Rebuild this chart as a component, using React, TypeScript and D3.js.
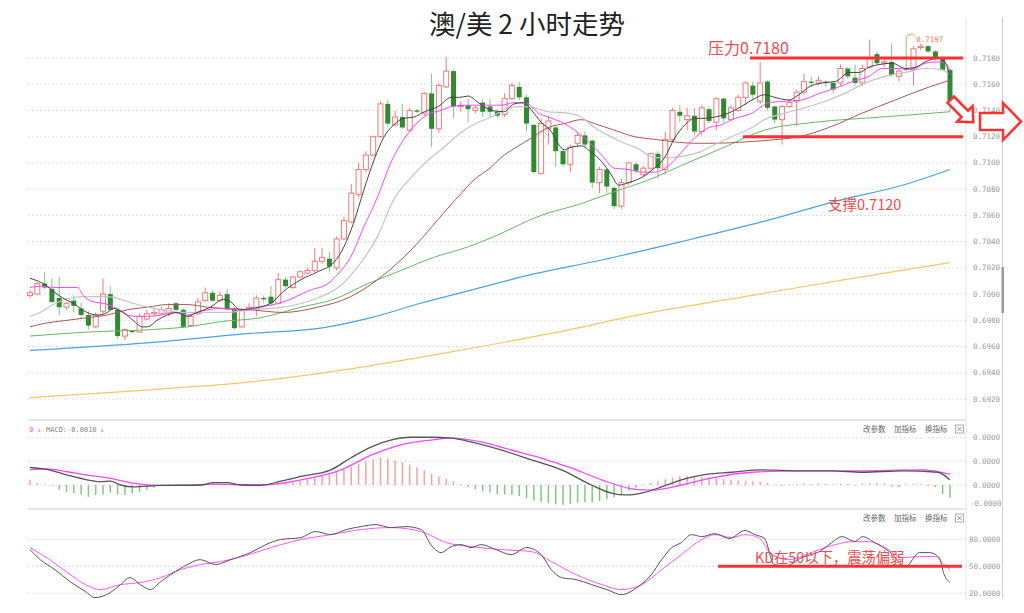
import React from "react";
import * as d3 from "d3";

// ---------- candles (AUD/USD, 2h) ----------
const opens = [0.6999,0.7000,0.7008,0.7004,0.6997,0.6990,0.6995,0.6989,0.6984,0.6975,
0.6987,0.7000,0.6988,0.6968,0.6972,0.6971,0.6981,0.6985,0.6985,0.6985,
0.6993,0.6988,0.6976,0.6985,0.6995,0.7001,0.6995,0.7000,0.6989,0.6975,
0.6988,0.6988,0.6997,0.6998,0.6993,0.7011,0.7005,0.7013,0.7016,0.7018,
0.7025,0.7027,0.7020,0.7042,0.7055,0.7076,0.7095,0.7106,0.7120,0.7145,
0.7129,0.7135,0.7125,0.7140,0.7138,0.7153,0.7126,0.7158,0.7170,0.7143,
0.7144,0.7140,0.7146,0.7143,0.7139,0.7137,0.7149,0.7158,0.7150,0.7129,
0.7092,0.7126,0.7127,0.7109,0.7099,0.7115,0.7121,0.7117,0.7085,0.7095,
0.7081,0.7067,0.7085,0.7099,0.7091,0.7096,0.7107,0.7095,0.7118,0.7139,
0.7133,0.7136,0.7124,0.7141,0.7131,0.7149,0.7133,0.7140,0.7150,0.7159,
0.7147,0.7162,0.7143,0.7133,0.7143,0.7147,0.7154,0.7162,0.7161,0.7162,
0.7161,0.7161,0.7172,0.7165,0.7161,0.7173,0.7183,0.7176,0.7177,0.7166,
0.7172,0.7172,0.7188,0.7189,0.7185,0.7180,0.7171];
const highs = [0.7003,0.7009,0.7017,0.7012,0.7013,0.6994,0.6999,0.6993,0.6987,0.6986,
0.7012,0.7006,0.6989,0.6974,0.6973,0.6985,0.6988,0.6989,0.6990,0.6993,
0.6994,0.6989,0.6984,0.6997,0.7005,0.7003,0.7002,0.7004,0.6990,0.6989,
0.6993,0.6999,0.6999,0.7006,0.7016,0.7013,0.7014,0.7018,0.7020,0.7035,
0.7035,0.7032,0.7044,0.7059,0.7084,0.7100,0.7109,0.7121,0.7147,0.7148,
0.7140,0.7145,0.7142,0.7141,0.7154,0.7168,0.7161,0.7181,0.7171,0.7147,
0.7149,0.7144,0.7149,0.7149,0.7141,0.7153,0.7161,0.7162,0.7152,0.7130,
0.7134,0.7136,0.7129,0.7110,0.7114,0.7123,0.7124,0.7118,0.7097,0.7096,
0.7082,0.7088,0.7101,0.7101,0.7098,0.7108,0.7109,0.7124,0.7142,0.7144,
0.7142,0.7142,0.7144,0.7143,0.7150,0.7150,0.7144,0.7152,0.7162,0.7162,
0.7177,0.7163,0.7144,0.7144,0.7148,0.7156,0.7168,0.7166,0.7166,0.7163,
0.7162,0.7175,0.7173,0.7175,0.7175,0.7194,0.7185,0.7181,0.7191,0.7172,
0.7197,0.7189,0.7191,0.7190,0.7186,0.7181,0.7172];
const lows = [0.6997,0.6999,0.7004,0.6993,0.6984,0.6988,0.6986,0.6982,0.6973,0.6974,
0.6985,0.6987,0.6966,0.6965,0.6970,0.6971,0.6980,0.6983,0.6984,0.6983,
0.6987,0.6974,0.6975,0.6984,0.6994,0.6994,0.6994,0.6987,0.6973,0.6974,
0.6987,0.6983,0.6993,0.6992,0.6992,0.7005,0.7004,0.7012,0.7015,0.7017,
0.7023,0.7017,0.7018,0.7041,0.7054,0.7074,0.7093,0.7105,0.7119,0.7128,
0.7128,0.7126,0.7124,0.7138,0.7136,0.7112,0.7123,0.7157,0.7134,0.7139,
0.7131,0.7138,0.7135,0.7135,0.7134,0.7135,0.7148,0.7148,0.7124,0.7092,
0.7091,0.7114,0.7097,0.7097,0.7093,0.7112,0.7112,0.7081,0.7077,0.7077,
0.7065,0.7065,0.7083,0.7092,0.7090,0.7095,0.7088,0.7091,0.7116,0.7131,
0.7125,0.7121,0.7121,0.7130,0.7125,0.7131,0.7132,0.7139,0.7144,0.7148,
0.7145,0.7140,0.7130,0.7114,0.7142,0.7128,0.7152,0.7158,0.7159,0.7158,
0.7153,0.7159,0.7164,0.7159,0.7159,0.7172,0.7175,0.7173,0.7166,0.7162,
0.7170,0.7159,0.7186,0.7184,0.7178,0.7170,0.7139];
const closes = [0.7001,0.7008,0.7005,0.6994,0.6990,0.6993,0.6991,0.6984,0.6976,0.6984,
0.7000,0.6988,0.6968,0.6973,0.6971,0.6983,0.6985,0.6986,0.6988,0.6989,
0.6988,0.6975,0.6983,0.6994,0.7001,0.6995,0.6999,0.6989,0.6974,0.6988,
0.6990,0.6997,0.6996,0.6993,0.7011,0.7006,0.7013,0.7017,0.7018,0.7025,
0.7028,0.7021,0.7042,0.7056,0.7077,0.7095,0.7106,0.7120,0.7145,0.7130,
0.7135,0.7127,0.7140,0.7139,0.7153,0.7126,0.7159,0.7170,0.7143,0.7144,
0.7141,0.7142,0.7139,0.7139,0.7136,0.7149,0.7159,0.7150,0.7130,0.7093,
0.7130,0.7132,0.7109,0.7099,0.7112,0.7121,0.7114,0.7085,0.7095,0.7082,
0.7067,0.7085,0.7100,0.7094,0.7096,0.7107,0.7096,0.7118,0.7140,0.7136,
0.7136,0.7124,0.7142,0.7132,0.7149,0.7134,0.7142,0.7150,0.7161,0.7152,
0.7161,0.7142,0.7133,0.7143,0.7146,0.7154,0.7162,0.7161,0.7163,0.7161,
0.7156,0.7172,0.7166,0.7161,0.7172,0.7180,0.7176,0.7177,0.7167,0.7170,
0.7171,0.7187,0.7189,0.7185,0.7180,0.7171,0.7145];

const priceTicks = [0.7180,0.7160,0.7140,0.7120,0.7100,0.7080,0.7060,0.7040,0.7020,0.7000,0.6980,0.6960,0.6940,0.6920];

// ---------- moving averages: [candle index, price] ----------
const ma5: [number, number][] = [[0,.7012],[2.1,.7007],[3.2,.7002],[4.5,.6997],[5.9,.6993],[7.8,.6986],[9.2,.6984],[10.6,.6986],[11.4,.6989],[12.8,.6986],[14.1,.6980],[15.4,.6975],[16.1,.6975],[17.4,.6980],[18.8,.6984],[20.2,.6986],[21.5,.6983],[22.9,.6986],[24.7,.6990],[26.5,.6996],[27.5,.6994],[28.8,.6988],[30.2,.6989],[33,.6993],[34.7,.7002],[37.1,.7011],[39.4,.7017],[41.6,.7024],[43,.7036],[44.3,.7054],[45.7,.7079],[47.1,.7102],[48.5,.7120],[49.8,.7129],[51.2,.7134],[52.6,.7135],[54,.7139],[55.9,.7143],[57.7,.7150],[58.8,.7150],[60,.7151],[61.4,.7146],[63.2,.7140],[64.9,.7139],[66.3,.7145],[67.6,.7146],[68.7,.7140],[70,.7131],[71.4,.7124],[72.4,.7114],[73.2,.7110],[74.1,.7112],[75.5,.7113],[76.9,.7108],[78.3,.7101],[79.6,.7091],[80.6,.7083],[82,.7085],[83.8,.7089],[85.5,.7096],[86.9,.7104],[88.3,.7119],[89.7,.7129],[91,.7134],[92.4,.7134],[93.8,.7135],[95.2,.7137],[97.1,.7142],[98.9,.7148],[100.6,.7152],[102,.7150],[103.9,.7148],[105.3,.7152],[106.7,.7158],[108.5,.7161],[110.3,.7162],[112.2,.7169],[113.6,.7169],[114.9,.7173],[116.3,.7175],[118.1,.7176],[119.9,.7172],[121.3,.7173],[122.6,.7177],[124.5,.7180],[125.4,.7176],[126,.7165]];
const ma10: [number, number][] = [[0,.7005],[1.4,.7006],[3.2,.7005],[5.1,.7005],[6.5,.7005],[7.3,.6999],[8.7,.6994],[10,.6993],[11.9,.6989],[13.3,.6984],[14.7,.6983],[16.1,.6983],[17.9,.6984],[19.6,.6986],[21.6,.6984],[22.9,.6986],[24.3,.6988],[26.1,.6989],[27.9,.6988],[29.8,.6988],[31.6,.6990],[34.7,.6994],[38.4,.7003],[40.8,.7008],[42.6,.7018],[43.9,.7028],[45.7,.7051],[47.6,.7074],[49.4,.7100],[51.2,.7118],[53.1,.7131],[54.5,.7137],[56.3,.7140],[57.7,.7143],[60,.7144],[61.8,.7144],[64.5,.7144],[66.3,.7146],[68.2,.7145],[69.6,.7138],[71,.7135],[72.8,.7131],[74.6,.7125],[76.5,.7116],[78.3,.7106],[80,.7096],[82,.7095],[83.8,.7093],[85.5,.7093],[87.5,.7098],[89.2,.7108],[91,.7119],[93,.7127],[94.7,.7129],[96.1,.7133],[98.9,.7138],[101.2,.7146],[103.4,.7147],[105.7,.7148],[108.1,.7153],[110.8,.7158],[112.6,.7162],[114.9,.7166],[116.7,.7172],[119,.7172],[120.8,.7171],[122.6,.7176],[124.5,.7177],[125.4,.7176],[126,.7170]];
const ma20: [number, number][] = [[0,.6983],[1.4,.6986],[3.2,.6992],[5.5,.6997],[7.8,.6998],[10.6,.6998],[12.4,.6996],[14.1,.6993],[16.1,.6990],[18.3,.6988],[20.6,.6986],[23.8,.6986],[27,.6986],[30.2,.6988],[34.7,.6990],[39.4,.6997],[42.2,.7005],[44.9,.7021],[47.6,.7044],[49.8,.7072],[52.2,.7089],[54.5,.7102],[56.7,.7112],[59,.7123],[61.4,.7131],[63.2,.7135],[65.5,.7142],[67.3,.7143],[69.1,.7142],[71,.7139],[73.7,.7138],[75.5,.7135],[77.3,.7127],[79.2,.7121],[81,.7116],[83.3,.7111],[85.5,.7104],[87.5,.7104],[89.2,.7105],[91.6,.7108],[93.8,.7114],[96.1,.7120],[98.9,.7127],[100.6,.7133],[103.4,.7138],[106.1,.7142],[108.9,.7147],[111.6,.7153],[114.4,.7161],[117.1,.7166],[119.9,.7169],[122.6,.7172],[124.9,.7171],[126,.7167]];
const ma30: [number, number][] = [[0,.6975],[2.3,.6978],[5.1,.6980],[7.8,.6982],[10.6,.6984],[13.3,.6988],[16.1,.6990],[18.8,.6992],[21.6,.6992],[24.3,.6990],[27,.6989],[30.2,.6988],[34.7,.6986],[39.4,.6990],[43.9,.6998],[47.6,.7011],[50.4,.7024],[53.1,.7039],[55.9,.7057],[58.6,.7074],[60.8,.7087],[63.2,.7097],[64.5,.7104],[66.3,.7111],[68.7,.7119],[71,.7127],[73.2,.7130],[75.5,.7133],[77.3,.7130],[80,.7125],[82.8,.7120],[85.5,.7118],[88.3,.7116],[91,.7115],[93.8,.7115],[97.9,.7116],[102.6,.7118],[105.3,.7120],[109.4,.7127],[114,.7138],[118.5,.7148],[123.2,.7158],[126,.7163]];
const ma60: [number, number][] = [[0,.6968],[7.8,.6971],[16.9,.6973],[21.6,.6975],[26.1,.6979],[31.6,.6982],[37.1,.6990],[41.6,.6996],[46.3,.7008],[50.8,.7018],[55.3,.7028],[60,.7036],[63.2,.7043],[70,.7060],[75.5,.7069],[80,.7078],[84.7,.7087],[89.2,.7098],[94.7,.7111],[100.6,.7125],[107.5,.7131],[116.7,.7135],[126,.7139]];
const ma120: [number, number][] = [[0,.6957],[16.5,.6963],[30.2,.6970],[39.8,.6974],[46.7,.6982],[53.5,.6993],[60.4,.7003],[68.7,.7015],[78.3,.7026],[89.2,.7040],[100.2,.7055],[111.2,.7072],[119.5,.7083],[126,.7095]];
const ma250: [number, number][] = [[0,.6921],[16.5,.6927],[30.2,.6933],[43.9,.6943],[57.7,.6956],[71.4,.6970],[85.1,.6986],[98.9,.6999],[112.6,.7012],[126,.7024]];

// ---------- MACD (units of 0.0001) ----------
const macdHist = [1.1,0.4,0.1,-0.1,-1.0,-1.5,-1.7,-2.0,-2.5,-2.1,
-2.0,-1.6,-2.0,-2.1,-1.8,-1.4,-1.0,-0.6,-0.2,0.1,
0.1,-0.1,0.1,0.2,0.3,0.3,0.3,0.2,-0.2,-0.2,
-0.1,0.2,0.3,0.4,0.6,0.7,0.8,0.9,1.2,1.5,
1.9,2.3,2.8,3.3,3.9,4.5,5.0,5.4,5.8,5.6,
5.2,4.8,4.3,3.7,3.1,2.4,1.8,1.3,0.8,0.2,
-0.4,-0.9,-1.3,-1.6,-1.9,-2.0,-2.1,-2.3,-2.8,-3.3,
-3.6,-3.8,-4.1,-4.2,-4.0,-3.7,-3.6,-3.7,-3.4,-3.0,
-2.6,-1.9,-1.2,-0.6,-0.1,0.4,0.8,1.2,1.6,1.9,
1.9,1.8,1.7,1.6,1.5,1.3,1.1,1.0,0.9,0.8,
0.7,0.4,0.1,-0.2,0.1,0.2,0.3,0.2,0.3,0.2,
0.1,0.3,0.2,-0.1,0.3,0.4,0.4,0.3,-0.3,-0.4,
0.1,0.2,0.1,-0.2,-0.4,-1.9,-2.7];
const macdDif: [number, number][] = [[0,3.7],[2.3,3.3],[5.1,2.1],[7.8,1.1],[9.6,0.7],[11,0.8],[12.4,0],[14.1,-0.4],[17.9,-0.1],[23.4,0],[25.1,0.5],[27,0.5],[28.8,0],[30.6,-0.1],[32.5,0.1],[34.3,0.8],[37.1,1.8],[41.2,3.2],[43.9,5.7],[46.7,8.0],[49.4,9.5],[52.2,10.1],[54.9,10.1],[57.7,9.9],[60.4,9.1],[64.5,7.4],[68.7,5.3],[72.8,3.2],[76.9,0],[79.6,-1.7],[81.7,-2.1],[83.8,-1.7],[86.5,-0.4],[89.2,1.1],[92,2.1],[96.1,2.7],[100.2,3.2],[105.7,3.0],[109.8,3.0],[114,2.7],[119.5,3.0],[124.3,2.7],[126,1.1]];
const macdDea: [number, number][] = [[0,3.2],[2.3,3.4],[5.1,2.8],[7.8,2.1],[11,1.4],[14.1,0.4],[17.9,-0.1],[21.6,-0.1],[25.1,0.2],[28.8,0.1],[32.5,0.1],[37.1,1.1],[42.6,3.2],[46.7,6.3],[50.8,8.5],[54.9,9.5],[57.7,9.9],[61.8,9.1],[65.9,7.4],[70,5.7],[74.1,3.6],[78.3,1.1],[82.4,-0.8],[85.1,-1.1],[89.2,0],[93.4,1.5],[98.9,2.7],[105.7,3.0],[114,3.0],[122.2,3.2],[126,2.3]];
const macdTicks = [10, 5, 0, -4];
const macdTickLabels = ["0.0000", "0.0000", "0.0000", "-0.0000"];

// ---------- KD ----------
const kdK: [number, number][] = [[0,68.6],[1.4,57.4],[3.4,46.3],[5.5,33.0],[7.6,21.9],[8.9,15.2],[11,20.8],[12.4,29.7],[13.7,37.4],[15.1,29.7],[16.5,24.1],[17.9,33.0],[19.9,44.1],[21.3,50.8],[23.3,57.4],[25.4,51.9],[27.5,57.4],[30.2,65.2],[32.3,74.1],[34.3,79.7],[37.1,81.9],[39.1,88.6],[41.2,85.2],[43.3,90.8],[45.3,94.1],[47.4,96.3],[49.4,93.0],[51.5,94.1],[53.6,90.8],[54.9,74.1],[56.3,65.2],[57.7,71.9],[59,74.1],[60.4,70.8],[61.8,74.1],[63.8,68.6],[65.9,63.0],[68,70.8],[70,63.0],[71.4,46.3],[72.8,37.4],[74.8,35.2],[76.9,29.7],[79,24.1],[81,18.5],[83.1,26.3],[85.1,40.8],[86.5,57.4],[87.9,70.8],[89.2,76.3],[90.6,85.2],[92,83.0],[93.8,86.3],[95.8,80.8],[97.9,89.7],[99.3,85.2],[100.6,80.8],[101.9,51.9],[103.4,49.7],[105.7,59.7],[108.1,66.3],[109.8,76.3],[111.2,83.0],[113,77.4],[114,83.0],[115.7,76.3],[117.7,66.3],[119.9,49.7],[121.8,65.2],[123.2,65.2],[124.5,59.7],[125.2,40.8],[126,31.9]];
const kdD: [number, number][] = [[0,70.8],[2.7,57.4],[5.5,40.8],[7.6,29.7],[9.6,24.1],[12.4,29.7],[15.1,31.9],[17.9,37.4],[20.6,46.3],[23.3,51.9],[26.1,55.2],[29.5,61.9],[33,70.8],[37.1,79.7],[41.2,85.2],[45.3,90.8],[49.4,93.0],[53.6,88.6],[57,76.3],[60.4,71.9],[64.5,68.6],[68.7,66.3],[71.4,55.2],[74.8,40.8],[78.3,29.7],[81,24.1],[83.8,29.7],[86.5,46.3],[89.2,63.0],[92,79.7],[93.8,85.2],[96.1,81.9],[97.9,85.2],[99.8,81.9],[101.6,63.0],[104,57.4],[105.7,60.8],[108.1,68.6],[110.3,74.1],[112.6,77.4],[114.9,77.4],[117.1,70.8],[119.5,59.7],[121.8,60.8],[124,60.8],[125.2,51.9],[126,46.3]];
const kdTicks = [80, 50, 20];

const RED = "#f07a7a";
const GREEN_BODY = "#2f8a32";
const GREEN_WICK = "#86c486";
const ANNO = "#ff3030";
const CJK = "'Noto Sans CJK SC', 'Noto Sans', sans-serif";
const MONO = "'DejaVu Sans Mono', monospace";

export default function App() {
  const x = d3.scaleLinear().domain([0, 126]).range([30, 950]);
  const y = d3.scaleLinear().domain([0.6920, 0.7180]).range([399, 58]);
  const yM = d3.scaleLinear().domain([0, 10]).range([485, 437.7]);
  const yK = d3.scaleLinear().domain([20, 80]).range([593.3, 539.3]);

  const mkLine = (ys: d3.ScaleLinear<number, number>) =>
    d3.line<[number, number]>().x((d) => x(d[0])).y((d) => ys(d[1])).curve(d3.curveMonotoneX);
  const priceLine = mkLine(y);
  const macdLine = mkLine(yM);
  const kdLine = mkLine(yK);

  const bw = 5;
  const gridL = 28, gridR = 966;

  const maDefs: { d: [number, number][]; c: string; w: number }[] = [
    { d: ma250, c: "#f6c766", w: 1.2 },
    { d: ma120, c: "#4ea2e4", w: 1.2 },
    { d: ma60, c: "#66b866", w: 1 },
    { d: ma30, c: "#a85a52", w: 1 },
    { d: ma20, c: "#c4c4c4", w: 1.2 },
    { d: ma10, c: "#ff44ff", w: 1 },
    { d: ma5, c: "#444444", w: 1 },
  ];

  const headerTools = (cy: number) => (
    <g fontFamily={CJK} fontSize={7.5} fill="#666">
      <text x={863} y={cy + 3}>改参数</text>
      <text x={894} y={cy + 3}>加指标</text>
      <text x={925} y={cy + 3}>换指标</text>
      <rect x={955.5} y={cy - 4} width={8} height={8} fill="#fff" stroke="#999" strokeWidth={0.8} />
      <path d={`M957.5 ${cy - 2} L961.5 ${cy + 2} M961.5 ${cy - 2} L957.5 ${cy + 2}`} stroke="#777" strokeWidth={0.8} />
    </g>
  );

  return (
    <svg width={1024} height={613} style={{ position: "absolute", left: 0, top: 0, background: "#fff" }}>
      <rect x={0} y={0} width={1024} height={613} fill="#fff" />
      {/* title */}
      <text x={527} y={34} textAnchor="middle" fontFamily={CJK} fontSize={26.5} fill="#222">澳/美 2 小时走势</text>

      {/* frame lines */}
      <line x1={966} x2={966} y1={18} y2={600} stroke="#e2e2e2" strokeWidth={1} />
      <line x1={1002.5} x2={1002.5} y1={18} y2={598} stroke="#d0d0d0" strokeWidth={1} />
      <rect x={1001.5} y={267} width={2.5} height={46} fill="#9a9a9a" />
      <line x1={gridL} x2={gridR} y1={420} y2={420} stroke="#e6e6e6" strokeWidth={2} />
      <line x1={gridL} x2={gridR} y1={509} y2={509} stroke="#e6e6e6" strokeWidth={2} />

      {/* price grid & labels */}
      {priceTicks.map((t) => (
        <g key={t}>
          <line x1={gridL} x2={gridR} y1={y(t)} y2={y(t)} stroke="#dedede" strokeDasharray="2,2" />
          <text x={973} y={y(t) + 2.5} fontFamily={MONO} fontSize={7.5} fill="#9a9a9a">{t.toFixed(4)}</text>
        </g>
      ))}

      {/* candles */}
      {opens.map((o, i) => {
        const c = closes[i];
        const up = c >= o;
        const cx = x(i);
        const top = y(Math.max(o, c));
        const h = Math.max(1, y(Math.min(o, c)) - top);
        return (
          <g key={i}>
            <line x1={cx} x2={cx} y1={y(highs[i])} y2={y(lows[i])} stroke={up ? RED : GREEN_WICK} strokeWidth={1} />
            {up ? (
              <rect x={cx - bw / 2} y={top} width={bw} height={h} fill="#fff" stroke={RED} strokeWidth={1} />
            ) : (
              <rect x={cx - bw / 2} y={top} width={bw} height={h} fill={GREEN_BODY} />
            )}
          </g>
        );
      })}

      {/* moving averages */}
      {maDefs.map((m, k) => (
        <path key={k} d={priceLine(m.d) || ""} fill="none" stroke={m.c} strokeWidth={m.w} />
      ))}

      {/* high marker */}
      <path d={`M${x(120) + 1} ${y(0.7197)} L${x(120) + 6} ${y(0.7197) - 2} L${x(120) + 9} ${y(0.7197) + 1}`} fill="none" stroke="#f08040" strokeWidth={0.8} />
      <text x={x(120) + 10} y={y(0.7197) + 6} fontFamily={MONO} fontSize={7.5} fill="#f07838">0.7197</text>

      {/* resistance / support annotations */}
      <line x1={750} x2={963} y1={y(0.7180)} y2={y(0.7180)} stroke={ANNO} strokeWidth={3} />
      <line x1={743} x2={963} y1={y(0.7120)} y2={y(0.7120)} stroke={ANNO} strokeWidth={3} />
      <text x={708} y={54} fontFamily={CJK} fontSize={16} fill="#f24a4a">压力0.7180</text>
      <text x={828} y={210} fontFamily={CJK} fontSize={14.5} fill="#f24a4a">支撑0.7120</text>

      {/* arrows */}
      <polygon
        points="-16,-4.5 4,-4.5 4,-11 16,0 4,11 4,4.5 -16,4.5"
        transform="translate(962,111) rotate(45)"
        fill="#fff" stroke={ANNO} strokeWidth={2.5} strokeLinejoin="miter"
      />
      <polygon
        points="980,113 1003,113 1003,103 1021,121.5 1003,140 1003,130 980,130"
        fill="#fff" stroke={ANNO} strokeWidth={2.5}
      />

      {/* MACD panel */}
      <g fontFamily={MONO} fontSize={7}>
        <text x={29} y={432} fill="#ff44ff">9</text>
        <text x={37} y={432} fill="#ff44ff">↓</text>
        <text x={46} y={432} fill="#888">MACD:-0.0010</text>
        <text x={100} y={432} fill="#888">↓</text>
      </g>
      {headerTools(429)}
      {macdTicks.map((t, k) => (
        <g key={k}>
          {k < 3 && <line x1={gridL} x2={gridR} y1={yM(t)} y2={yM(t)} stroke="#dedede" strokeDasharray="2,2" />}
          <text x={t < 0 ? 970 : 973} y={yM(t) + 2.5} fontFamily={MONO} fontSize={7.5} fill="#9a9a9a">{macdTickLabels[k]}</text>
        </g>
      ))}
      {macdHist.map((v, i) => (
        <line key={i} x1={x(i)} x2={x(i)} y1={yM(0)} y2={yM(v)} stroke={v >= 0 ? "#f4a0a0" : "#86c486"} strokeWidth={1.5} />
      ))}
      <path d={macdLine(macdDea) || ""} fill="none" stroke="#ff44ff" strokeWidth={1.3} />
      <path d={macdLine(macdDif) || ""} fill="none" stroke="#555" strokeWidth={1.3} />

      {/* KD panel */}
      {headerTools(518)}
      {kdTicks.map((t) => (
        <g key={t}>
          <line x1={gridL} x2={gridR} y1={yK(t)} y2={yK(t)} stroke="#dedede" strokeDasharray="2,2" />
          <text x={969} y={yK(t) + 2.5} fontFamily={MONO} fontSize={7.5} fill="#9a9a9a">{t.toFixed(4)}</text>
        </g>
      ))}
      <path d={kdLine(kdD) || ""} fill="none" stroke="#ff55ff" strokeWidth={1} />
      <path d={kdLine(kdK) || ""} fill="none" stroke="#555" strokeWidth={1} />
      <line x1={718} x2={962} y1={yK(50)} y2={yK(50)} stroke={ANNO} strokeWidth={3} />
      <text x={755} y={563} fontFamily={CJK} fontSize={14.3} fill="#f24a4a">KD在50以下，震荡偏弱</text>
    </svg>
  );
}
